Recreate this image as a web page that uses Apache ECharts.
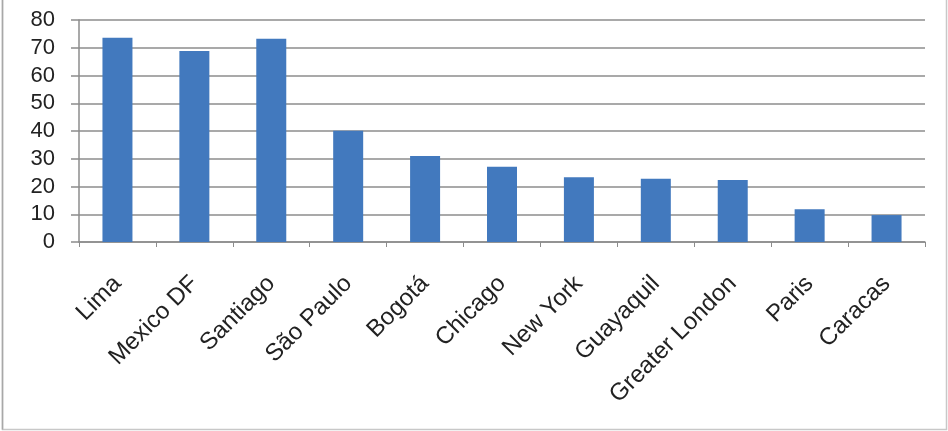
<!DOCTYPE html>
<html>
<head>
<meta charset="utf-8">
<script src="https://cdn.jsdelivr.net/npm/echarts@6/dist/echarts.min.js"></script>
<style>
  html, body { margin: 0; padding: 0; background: #fff; }
  #chart { width: 948px; height: 431px; }
</style>
</head>
<body>
<div id="chart"></div>
<script>
// City names along the horizontal axis
const cities = ['Lima', 'Mexico DF', 'Santiago', 'São Paulo', 'Bogotá', 'Chicago',
  'New York', 'Guayaquil', 'Greater London', 'Paris', 'Caracas'];
// Value per city
const values = [73.6, 68.8, 73.2, 40.1, 31.0, 27.1, 23.3, 22.8, 22.3, 11.8, 9.7];
// Value axis range and step
const yMin = 0;
const yMax = 80;
const yStep = 10;

const chart = echarts.init(document.getElementById('chart'), null, { renderer: 'canvas' });

const gridColor = '#8c8c8c';
const labelFont = 'Liberation Sans, Arial, sans-serif';

chart.setOption({
  animation: false,
  backgroundColor: '#fff',
  graphic: [
    {
      type: 'polyline',
      silent: true,
      shape: { points: [[2.5, -2], [2.5, 429.5], [946.5, 429.5], [946.5, -2]] },
      style: { fill: null, stroke: '#c8c8c8', lineWidth: 1.5 }
    },
    {
      type: 'line',
      silent: true,
      shape: { x1: 2.5, y1: -2, x2: 2.5, y2: 429.5 },
      style: { stroke: '#a8a8a8', lineWidth: 1.5 }
    }
  ],
  grid: { left: 79, right: 23, top: 20, bottom: 189, containLabel: false },
  xAxis: {
    type: 'category',
    data: cities,
    boundaryGap: true,
    axisLine: { show: true, lineStyle: { color: gridColor, width: 1.5 } },
    axisTick: { show: true, alignWithLabel: false, length: 5, lineStyle: { color: gridColor, width: 1 } },
    axisLabel: {
      interval: 0,
      rotate: 45,
      margin: 38,
      color: '#222',
      fontFamily: labelFont,
      fontSize: 24
    },
    splitLine: { show: false }
  },
  yAxis: {
    type: 'value',
    min: yMin,
    max: yMax,
    interval: yStep,
    axisLine: { show: true, lineStyle: { color: gridColor, width: 1.5 } },
    axisTick: { show: true, length: 8, lineStyle: { color: gridColor, width: 1.5 } },
    axisLabel: {
      margin: 24,
      color: '#222',
      fontFamily: labelFont,
      fontSize: 22
    },
    splitLine: { show: true, lineStyle: { color: gridColor, width: 1.5 } }
  },
  series: [
    {
      type: 'bar',
      data: values,
      barWidth: 30,
      itemStyle: { color: '#4279be' }
    }
  ]
});
</script>
</body>
</html>
